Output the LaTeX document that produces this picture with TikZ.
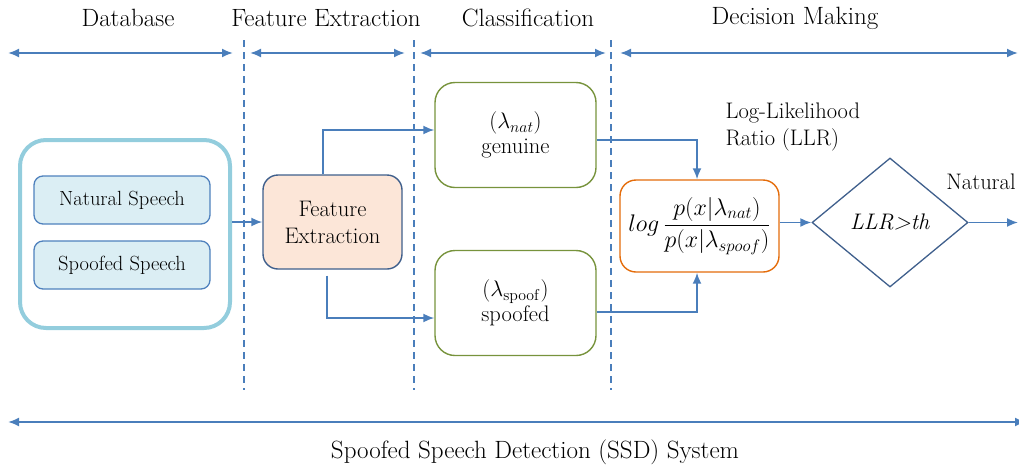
\RequirePackage{fix-cm}
\documentclass[tikz,border=0pt]{standalone}
\usetikzlibrary{shapes.geometric,arrows.meta}
\definecolor{arr}{HTML}{4A7EBB}
\definecolor{dbc}{HTML}{93CDDD}
\definecolor{inb}{HTML}{DBEEF4}
\definecolor{inbd}{HTML}{4F81BD}
\definecolor{fef}{HTML}{FCE6D8}
\definecolor{fed}{HTML}{3F5F8C}
\definecolor{grn}{HTML}{77933C}
\definecolor{org}{HTML}{E46C0A}
\begin{document}
\begin{tikzpicture}[x=1pt,y=-1pt,
  arrow/.style={draw=arr, line width=1.8pt, -{Latex[length=11pt,width=9pt]}},
  dbl/.style={draw=arr, line width=1.9pt, {Latex[length=11pt,width=9pt]}-{Latex[length=11pt,width=9pt]}},
  sep/.style={draw=arr, line width=1.3pt, dash pattern=on 7pt off 5pt},
  hdr/.style={font=\fontsize{25}{29}\selectfont},
  txt/.style={font=\fontsize{22.5}{27}\selectfont},
  inbox/.style={draw=inbd, fill=inb, line width=1.3pt, rounded corners=9pt, minimum width=176pt, minimum height=48pt, font=\fontsize{20.5}{24}\selectfont},
  clsbox/.style={draw=grn, line width=1.4pt, rounded corners=20pt, minimum width=161pt, minimum height=105pt, align=center, font=\fontsize{22.5}{25}\selectfont}
]
\useasboundingbox (0,0) rectangle (1019,469);

% headers
\node[hdr] (h1) at (128,18) {Database};
\node[hdr] (h2) at (326,18) {Feature Extraction};
\node[hdr] (h3) at (528,18) {Classification};
\node[hdr] (h4) at (795,18) {Decision Making};

% top range arrows
\coordinate (a1) at (8,53);   \coordinate (b1) at (233,53);
\coordinate (a2) at (250,53); \coordinate (b2) at (405,53);
\coordinate (a3) at (420,53); \coordinate (b3) at (606,53);
\coordinate (a4) at (620,53); \coordinate (b4) at (1018,53);
\draw[dbl] (a1) -- (b1);
\draw[dbl] (a2) -- (b2);
\draw[dbl] (a3) -- (b3);
\draw[dbl] (a4) -- (b4);

% separators
\coordinate (s1t) at (244,40); \coordinate (s1b) at (244,390);
\coordinate (s2t) at (414,40); \coordinate (s2b) at (414,390);
\coordinate (s3t) at (611,40); \coordinate (s3b) at (611,390);
\draw[sep] (s1t) -- (s1b);
\draw[sep] (s2t) -- (s2b);
\draw[sep] (s3t) -- (s3b);

% database
\node[draw=dbc, line width=4pt, rounded corners=26pt, minimum width=210pt, minimum height=188pt] (db) at (125,234) {};
\node[inbox] (nat) at (122,200) {Natural Speech};
\node[inbox] (spf) at (122,265) {Spoofed Speech};

% feature extraction
\node[draw=fed, fill=fef, line width=1.4pt, rounded corners=15pt, minimum width=139pt, minimum height=94pt, align=center, txt] (fe) at (332.5,222) {Feature\\Extraction};

% classifiers
\node[clsbox] (gen) at (515.5,135) {$(\lambda_{nat})$\\genuine};
\node[clsbox] (sp) at (515.5,303) {$(\lambda_{\mathrm{spoof}})$\\spoofed};

% LLR box
\node[draw=org, line width=1.4pt, rounded corners=16pt, minimum width=159pt, minimum height=92pt, inner sep=0pt, font=\fontsize{24}{28}\selectfont] (llr) at (699.5,226) {$\displaystyle log\,\frac{p(x|\lambda_{nat})}{p(x|\lambda_{spoof})}$};
\node[txt, align=left, anchor=west] (llrlab) at (722,127) {Log-Likelihood\\Ratio (LLR)};

% decision
\node[draw=fed, line width=1.3pt, diamond, minimum width=156pt, minimum height=129pt, inner sep=0pt, txt] (dia) at (890,222.5) {\textit{LLR>th}};
\node[txt] (natl) at (981,182) {Natural};
\coordinate (out) at (1018,222.5);

% connectors
\draw[arrow] (db.east |- fe.west) -- (fe.west);
\draw[arrow] ([xshift=-9.5pt]fe.north) |- ([yshift=5pt]gen.west);
\draw[arrow] ([xshift=-5.5pt,yshift=-6pt]fe.south) |- ([yshift=-15pt]sp.west);
\draw[arrow] ([yshift=-5pt]gen.east) -| ([xshift=-2.5pt]llr.north);
\draw[arrow] ([yshift=-9pt]sp.east) -| ([xshift=-2.5pt]llr.south);
\draw[arrow] (llr.east |- dia.west) -- (dia.west);
\draw[arrow] (dia.east) -- (out);

% system span
\coordinate (sl) at (8,422); \coordinate (sr) at (1026,422);
\draw[dbl] (sl) -- (sr);
\node[hdr] (sys) at (535,452) {Spoofed Speech Detection (SSD) System};
\end{tikzpicture}
\end{document}
